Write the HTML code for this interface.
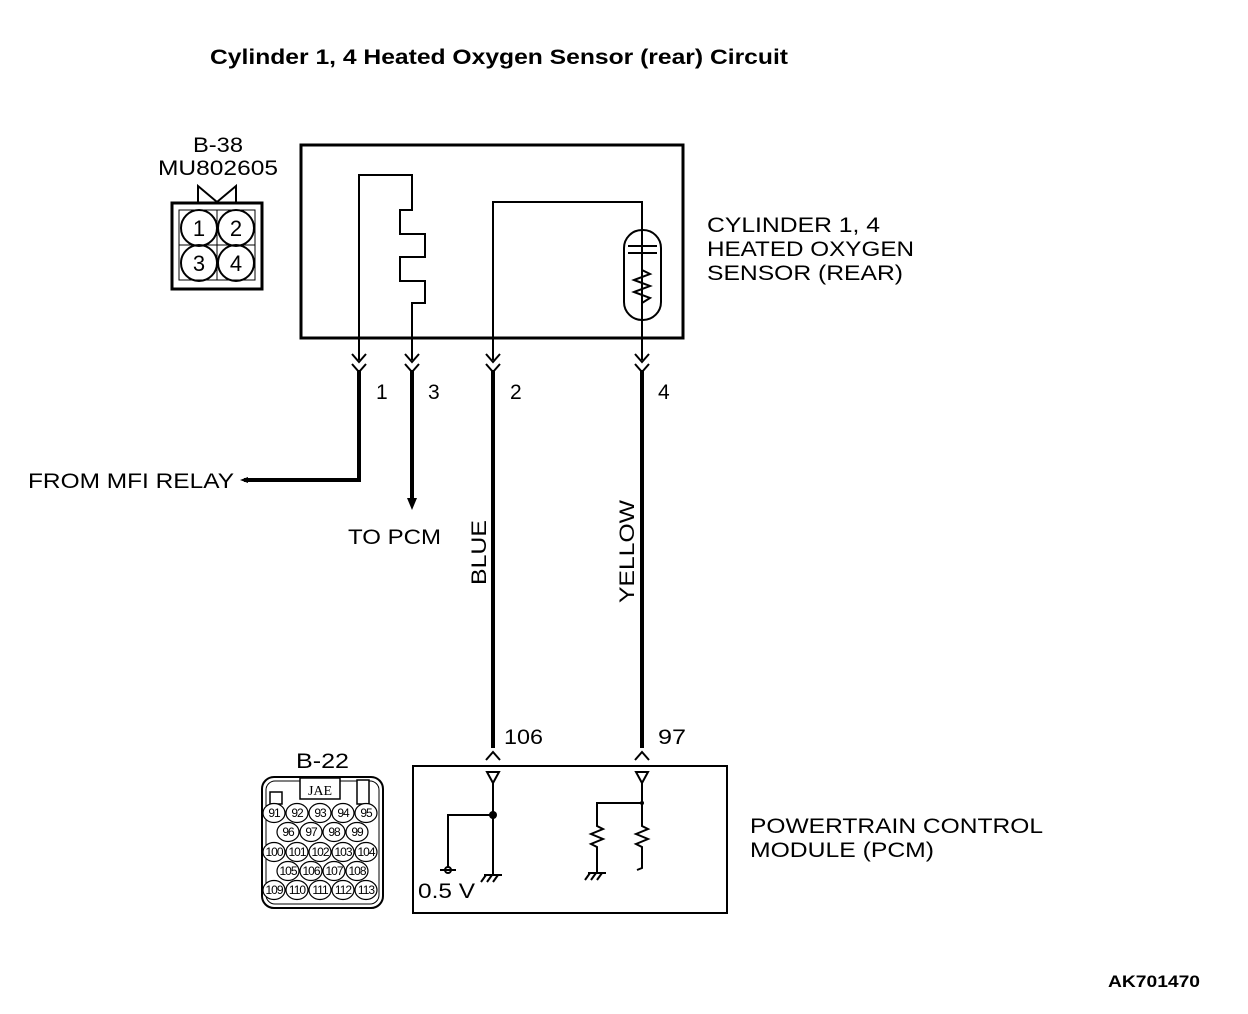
<!DOCTYPE html>
<html><head><meta charset="utf-8"><style>
html,body{margin:0;padding:0;background:#fff;}
svg{display:block;}
text{font-family:"Liberation Sans",Arial,sans-serif;fill:#000;}
</style></head><body>
<svg width="1248" height="1014" viewBox="0 0 1248 1014" xmlns="http://www.w3.org/2000/svg">
<rect width="1248" height="1014" fill="#fff"/>
<text x="210" y="64" font-size="21" font-weight="bold" textLength="578" lengthAdjust="spacingAndGlyphs">Cylinder 1, 4 Heated Oxygen Sensor (rear) Circuit</text>

<!-- B-38 connector -->
<text x="193" y="152" font-size="21" textLength="50" lengthAdjust="spacingAndGlyphs">B-38</text>
<text x="158" y="175" font-size="21" textLength="120" lengthAdjust="spacingAndGlyphs">MU802605</text>
<path d="M198 203 V186 L217 202 L236 186 V203" fill="none" stroke="#000" stroke-width="2"/>
<rect x="172" y="203" width="90" height="86" fill="none" stroke="#000" stroke-width="3"/>
<rect x="179" y="210" width="76" height="70" fill="none" stroke="#000" stroke-width="1"/>
<line x1="217" y1="210" x2="217" y2="280" stroke="#000"/>
<line x1="179" y1="245" x2="255" y2="245" stroke="#000"/>
<g fill="none" stroke="#000" stroke-width="2">
<circle cx="199" cy="228" r="18"/><circle cx="236" cy="228" r="18"/>
<circle cx="199" cy="263" r="18"/><circle cx="236" cy="263" r="18"/>
</g>
<g font-size="22" text-anchor="middle">
<text x="199" y="236">1</text><text x="236" y="236">2</text>
<text x="199" y="271">3</text><text x="236" y="271">4</text>
</g>

<!-- Sensor box -->
<rect x="301" y="145" width="382" height="193" fill="none" stroke="#000" stroke-width="3"/>
<g fill="none" stroke="#000" stroke-width="2">
<path d="M359 360 V175 H412 V210 H400 V234 H425 V257 H400 V281 H425 V303 H412 V360"/>
<path d="M493 360 V202 H642 V360"/>
<rect x="624" y="230" width="37" height="90" rx="18" ry="18"/>
<line x1="628" y1="246" x2="657" y2="246"/>
<line x1="628" y1="253" x2="657" y2="253"/>
<path d="M642 253 V270 L650 274 L634 280 L650 286 L634 292 L650 298 L642 303"/>
</g>
<g fill="none" stroke="#000" stroke-width="2">
<path d="M352 354 L359 362 L366 354 M352 364 L359 372 L366 364"/>
<path d="M405 354 L412 362 L419 354 M405 364 L412 372 L419 364"/>
<path d="M486 354 L493 362 L500 354 M486 364 L493 372 L500 364"/>
<path d="M635 354 L642 362 L649 354 M635 364 L642 372 L649 364"/>
</g>
<g font-size="21">
<text x="376" y="399">1</text><text x="428" y="399">3</text>
<text x="510" y="399">2</text><text x="658" y="399">4</text>
</g>
<g fill="none" stroke="#000" stroke-width="4">
<path d="M359 370 V480 H244"/>
<path d="M412 370 V500"/>
<path d="M493 370 V748"/>
<path d="M642 370 V748"/>
</g>
<polygon points="240,480 248,477 248,483" fill="#000"/>
<polygon points="407,498 417,498 412,510" fill="#000"/>
<text x="28" y="488" font-size="21" textLength="206" lengthAdjust="spacingAndGlyphs">FROM MFI RELAY</text>
<text x="348" y="544" font-size="21" textLength="93" lengthAdjust="spacingAndGlyphs">TO PCM</text>
<text font-size="21" transform="translate(486,585) rotate(-90)" textLength="65" lengthAdjust="spacingAndGlyphs">BLUE</text>
<text font-size="21" transform="translate(634,603) rotate(-90)" textLength="103" lengthAdjust="spacingAndGlyphs">YELLOW</text>
<text x="707" y="232" font-size="21" textLength="173" lengthAdjust="spacingAndGlyphs">CYLINDER 1, 4</text>
<text x="707" y="256" font-size="21" textLength="207" lengthAdjust="spacingAndGlyphs">HEATED OXYGEN</text>
<text x="707" y="280" font-size="21" textLength="196" lengthAdjust="spacingAndGlyphs">SENSOR (REAR)</text>

<!-- PCM -->
<g fill="none" stroke="#000" stroke-width="2">
<path d="M486 760 L493 752 L500 760"/>
<path d="M635 760 L642 752 L649 760"/>
</g>
<text x="504" y="744" font-size="21" textLength="39" lengthAdjust="spacingAndGlyphs">106</text>
<text x="658" y="744" font-size="21" textLength="28" lengthAdjust="spacingAndGlyphs">97</text>
<rect x="413" y="766" width="314" height="147" fill="none" stroke="#000" stroke-width="2"/>
<g fill="none" stroke="#000" stroke-width="2">
<polygon points="487,772 499,772 493,783"/>
<polygon points="636,772 648,772 642,783"/>
<path d="M493 783 V875"/>
<path d="M493 815 H448 V867"/>
<circle cx="448" cy="870" r="3"/>
<line x1="440" y1="870" x2="456" y2="870"/>
<path d="M484 875 H502 M486 875 L481 882 M492 875 L487 882 M498 875 L493 882"/>
<path d="M642 783 V826 L648 829 L636 834 L648 839 L636 844 L642 847 V868 L637 870"/>
<path d="M642 803 H597 V826 L603 829 L591 834 L603 839 L591 844 L597 847 V872"/>
<path d="M588 873 H606 M590 873 L585 880 M596 873 L591 880 M602 873 L597 880"/>
</g>
<circle cx="493" cy="815" r="4" fill="#000"/>
<circle cx="642" cy="803" r="2" fill="#000"/>
<text x="418" y="898" font-size="21" textLength="57" lengthAdjust="spacingAndGlyphs">0.5 V</text>
<text x="750" y="833" font-size="21" textLength="293" lengthAdjust="spacingAndGlyphs">POWERTRAIN CONTROL</text>
<text x="750" y="857" font-size="21" textLength="184" lengthAdjust="spacingAndGlyphs">MODULE (PCM)</text>

<!-- B-22 -->
<text x="296" y="768" font-size="21" textLength="53" lengthAdjust="spacingAndGlyphs">B-22</text>
<rect x="262" y="777" width="121" height="131" rx="12" fill="none" stroke="#000" stroke-width="2"/>
<rect x="266" y="781" width="113" height="123" rx="9" fill="none" stroke="#000" stroke-width="1"/>
<rect x="300" y="778" width="40" height="21" fill="#fff" stroke="#000" stroke-width="1.5"/>
<text x="320" y="795" font-size="14" text-anchor="middle" style="font-family:'Liberation Serif',serif">JAE</text>
<rect x="270" y="792" width="12" height="12" fill="#fff" stroke="#000" stroke-width="1.5"/>
<rect x="357" y="780" width="12" height="24" fill="#fff" stroke="#000" stroke-width="1.5"/>
<g fill="#fff" stroke="#000" stroke-width="1.2">
<ellipse cx="274" cy="813" rx="11" ry="9.5"/><ellipse cx="297" cy="813" rx="11" ry="9.5"/><ellipse cx="320" cy="813" rx="11" ry="9.5"/><ellipse cx="343" cy="813" rx="11" ry="9.5"/><ellipse cx="366" cy="813" rx="11" ry="9.5"/>
<ellipse cx="288" cy="832" rx="11" ry="9.5"/><ellipse cx="311" cy="832" rx="11" ry="9.5"/><ellipse cx="334" cy="832" rx="11" ry="9.5"/><ellipse cx="357" cy="832" rx="11" ry="9.5"/>
<ellipse cx="274" cy="852" rx="11" ry="9.5"/><ellipse cx="297" cy="852" rx="11" ry="9.5"/><ellipse cx="320" cy="852" rx="11" ry="9.5"/><ellipse cx="343" cy="852" rx="11" ry="9.5"/><ellipse cx="366" cy="852" rx="11" ry="9.5"/>
<ellipse cx="288" cy="871" rx="11" ry="9.5"/><ellipse cx="311" cy="871" rx="11" ry="9.5"/><ellipse cx="334" cy="871" rx="11" ry="9.5"/><ellipse cx="357" cy="871" rx="11" ry="9.5"/>
<ellipse cx="274" cy="890" rx="11" ry="9.5"/><ellipse cx="297" cy="890" rx="11" ry="9.5"/><ellipse cx="320" cy="890" rx="11" ry="9.5"/><ellipse cx="343" cy="890" rx="11" ry="9.5"/><ellipse cx="366" cy="890" rx="11" ry="9.5"/>
</g>
<g font-size="12" text-anchor="middle" style="letter-spacing:-1px">
<text x="274" y="817">91</text><text x="297" y="817">92</text><text x="320" y="817">93</text><text x="343" y="817">94</text><text x="366" y="817">95</text>
<text x="288" y="836">96</text><text x="311" y="836">97</text><text x="334" y="836">98</text><text x="357" y="836">99</text>
<text x="274" y="856">100</text><text x="297" y="856">101</text><text x="320" y="856">102</text><text x="343" y="856">103</text><text x="366" y="856">104</text>
<text x="288" y="875">105</text><text x="311" y="875">106</text><text x="334" y="875">107</text><text x="357" y="875">108</text>
<text x="274" y="894">109</text><text x="297" y="894">110</text><text x="320" y="894">111</text><text x="343" y="894">112</text><text x="366" y="894">113</text>
</g>

<text x="1108" y="987" font-size="17" font-weight="bold" textLength="92" lengthAdjust="spacingAndGlyphs">AK701470</text>
</svg>
</body></html>
